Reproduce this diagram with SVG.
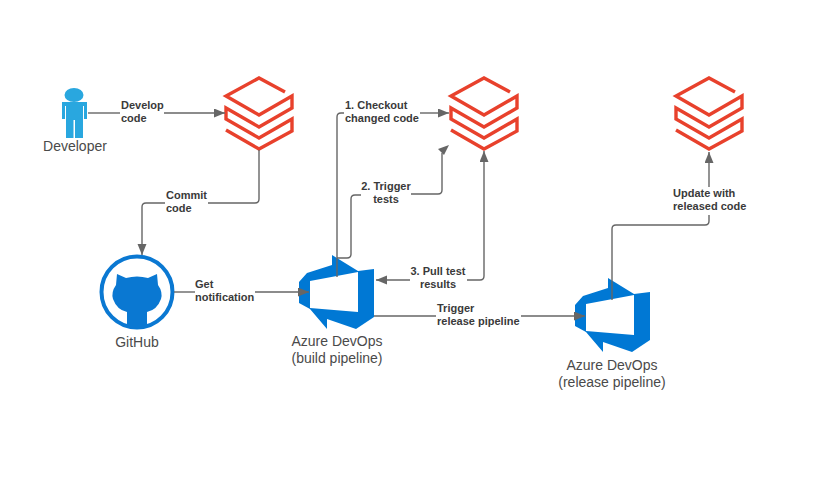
<svg xmlns="http://www.w3.org/2000/svg" width="814" height="480" viewBox="0 0 814 480">
<style>
.name{font:14px "Liberation Sans",Arial,sans-serif;fill:#4a4a4a;text-anchor:middle}
.lbl{font:bold 11px "Liberation Sans",Arial,sans-serif;fill:#3a3a3a}
.mid{text-anchor:middle}
.c{fill:none;stroke:#666;stroke-width:1.4}
.brick{fill:none;stroke:#e8412c;stroke-width:3.4;stroke-linejoin:miter}
.az{fill:#0078d4;fill-rule:evenodd}
</style>
<defs>
<marker id="arrow" markerUnits="userSpaceOnUse" markerWidth="12" markerHeight="10" refX="11" refY="4.5" orient="auto"><path d="M0 0L11 4.5L0 9Z" fill="#666"/></marker>
<g id="bricks">
<path class="brick" d="M26 14L0 0L-33 18L0 37L33 18V30L0 49L-33 30V41L0 60L33 41V53L0 71L-33 52"/>
</g>
<path id="azure" class="az" d="M332 255L358 271L374 269V317L356 329L327 319V329L310 309L299 303V282L307 273L332 265ZM310 281V308L358 312V272Z"/>
</defs>
<rect width="814" height="480" fill="#fff"/>
<g id="developer">
<ellipse cx="74" cy="95" rx="9.5" ry="7" fill="#29a7df"/>
<path d="M62 102H87V119H84V106H83V138H75V120H73.5V138H66V106H65V119H62Z" fill="#29a7df"/>
<text class="name" x="75" y="151">Developer</text>
</g>
<g id="workspace-dev"><use href="#bricks" x="259" y="78"/></g>
<g id="workspace-test"><use href="#bricks" x="484" y="78"/></g>
<g id="workspace-prod"><use href="#bricks" x="709" y="78"/></g>
<g id="github">
<circle cx="137" cy="292" r="35.5" fill="none" stroke="#0a78d2" stroke-width="4"/>
<path d="M117 274L126 278Q137 275 148 278L157 274L158 285Q163 292 161 299Q157 310 147 312V327.5H127V312Q117 310 113 299Q111 292 116 285Z" fill="#0a78d2"/>
<text class="name" x="137" y="347">GitHub</text>
</g>
<g id="azure-build">
<use href="#azure"/>
<text class="name" x="337" y="346">Azure DevOps</text>
<text class="name" x="337" y="363">(build pipeline)</text>
</g>
<g id="azure-release">
<use href="#azure" x="276" y="23"/>
<text class="name" x="612" y="370">Azure DevOps</text>
<text class="name" x="612" y="387">(release pipeline)</text>
</g>
<g id="connectors">
<path class="c" d="M88 113H120"/>
<path class="c" d="M164 113H225" marker-end="url(#arrow)"/>
<path class="c" d="M259 150V199Q259 203 255 203H208"/>
<path class="c" d="M165 203H146Q142 203 142 207V255" marker-end="url(#arrow)"/>
<path class="c" d="M174 292H195"/>
<path class="c" d="M255 292H309" marker-end="url(#arrow)"/>
<path class="c" d="M337 277V117Q337 113 341 113H344"/>
<path class="c" d="M420 113H449" marker-end="url(#arrow)"/>
<path class="c" d="M337 258H347Q351 258 351 254V199Q351 195 355 195H361"/>
<path class="c" d="M411 194H438Q442 194 442 190V153"/>
<path d="M449 145L438 149L444 155Z" fill="#666"/>
<path class="c" d="M467 280H480Q484 280 484 276V151" marker-end="url(#arrow)"/>
<path class="c" d="M410 280H376" marker-end="url(#arrow)"/>
<path class="c" d="M374 316H436"/>
<path class="c" d="M521 316H585" marker-end="url(#arrow)"/>
<path class="c" d="M612 300V229Q612 225 616 225H705Q709 225 709 221V215"/>
<path class="c" d="M709 187V152" marker-end="url(#arrow)"/>
<text class="lbl" x="121" y="109">Develop</text><text class="lbl" x="121" y="122">code</text>
<text class="lbl" x="166" y="199">Commit</text><text class="lbl" x="166" y="212">code</text>
<text class="lbl" x="195" y="288">Get</text><text class="lbl" x="195" y="301">notification</text>
<text class="lbl" x="345" y="109">1. Checkout</text><text class="lbl" x="345" y="122">changed code</text>
<text class="lbl mid" x="386" y="190">2. Trigger</text><text class="lbl mid" x="386" y="203">tests</text>
<text class="lbl mid" x="438" y="275">3. Pull test</text><text class="lbl mid" x="438" y="288">results</text>
<text class="lbl" x="437" y="312">Trigger</text><text class="lbl" x="437" y="325">release pipeline</text>
<text class="lbl" x="673" y="197">Update with</text><text class="lbl" x="673" y="210">released code</text>
</g>
</svg>
